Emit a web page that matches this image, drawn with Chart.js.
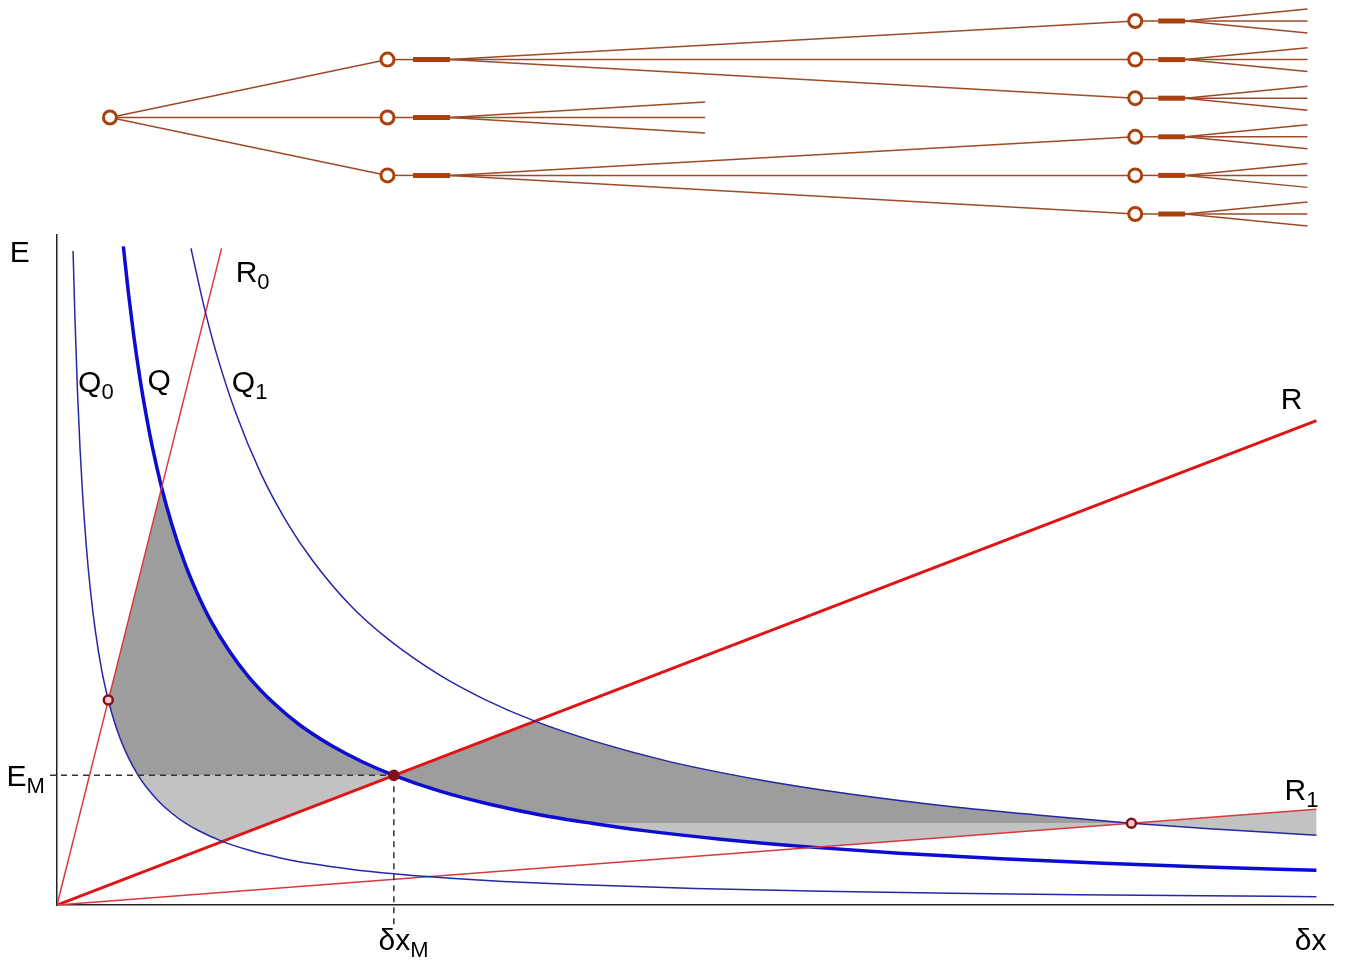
<!DOCTYPE html>
<html>
<head>
<meta charset="utf-8">
<title>E vs δx</title>
<script src="https://cdn.jsdelivr.net/npm/chart.js@4/dist/chart.umd.min.js"></script>
<style>
  html, body { margin: 0; padding: 0; background: #fff; }
  #wrap { position: relative; width: 1348px; height: 963px; }
  #wrap canvas { position: absolute; left: 0; top: 0; }
</style>
</head>
<body>
<div id="wrap">
  <canvas id="tree" width="1348" height="232"></canvas>
  <canvas id="plot" width="1348" height="963"></canvas>
</div>
<script>
// ── Data (arbitrary units: δx 0–100, E 0–100) ──

// Q0, Q, Q1 : the three hyperbolas
const q0X = [1.26, 1.4, 1.6, 1.8, 2, 2.3, 2.6, 3, 3.5, 4.02, 4.5, 5, 5.6, 6.36, 7, 8, 9, 10, 11, 12.95, 15, 17.5, 20, 23, 26.4, 30, 35, 40, 50, 60, 70, 80, 90, 98.7];
const q0E = [97.6, 87.9, 76.9, 68.3, 61.5, 53.5, 47.3, 41.0, 35.1, 30.6, 27.3, 24.6, 22.0, 19.35, 17.6, 15.4, 13.7, 12.3, 11.2, 9.49, 8.2, 7.03, 6.15, 5.35, 4.66, 4.1, 3.51, 3.08, 2.46, 2.05, 1.76, 1.54, 1.37, 1.25];

const qX = [5.2, 5.6, 6, 6.5, 7, 7.5, 8.2, 9, 10, 11, 12, 13.5, 15, 17, 19, 21.5, 24, 26.4, 30, 34, 38, 41.9, 46, 52, 59.4, 66, 74, 82, 90, 98.7];
const qE = [98.3, 91.3, 85.2, 78.6, 73.0, 68.1, 62.3, 56.8, 51.1, 46.5, 42.6, 37.9, 34.1, 30.1, 26.9, 23.8, 21.3, 19.36, 17.0, 15.0, 13.4, 12.2, 11.1, 9.83, 8.6, 7.74, 6.91, 6.23, 5.68, 5.18];

const q1X = [10.5, 11.5, 12.5, 14, 16, 18, 20, 23, 26, 30, 33.5, 37.5, 42, 48, 55, 62, 70, 77, 84.2, 91, 98.7];
const q1E = [98.0, 89.5, 82.3, 73.5, 64.3, 57.2, 51.5, 44.7, 39.6, 34.3, 30.7, 27.4, 24.5, 21.4, 18.7, 16.6, 14.7, 13.4, 12.2, 11.3, 10.4];

// R0, R, R1 : straight lines through the origin (end points)
const r0End = { x: 12.9, y: 98.0 };
const rEnd = { x: 98.7, y: 72.3 };
const r1End = { x: 98.7, y: 14.3 };

// marked crossings: R0∩Q0, R∩Q (δxM, EM), R1∩Q1
const markX = [4.02, 26.4, 84.2];
const markE = [30.6, 19.35, 12.2];

// other crossings that bound the shaded areas
const cornerA = { x: 6.36, y: 19.35 };  // EM level on Q0
const cornerB = { x: 8.2, y: 62.3 };    // R0 ∩ Q
const cornerC = { x: 12.95, y: 9.49 };  // R ∩ Q0
const cornerD = { x: 37.5, y: 27.4 };   // R ∩ Q1
const cornerF = { x: 41.9, y: 12.2 };   // E1 level on Q
const cornerG = { x: 59.4, y: 8.6 };    // R1 ∩ Q

// axis labels and curve names
const labelText = ['E', 'R', 'Q', 'Q', 'Q', 'R', 'E', 'R', 'δx', 'δx'];
const labelSub  = ['', '0', '0', '', '1', '', 'M', '1', 'M', ''];
const labelX = [-3.7, 14.0, 1.65, 7.1, 13.7, 95.9, -3.95, 96.2, 25.2, 97.0];
const labelY = [96.0, 93.0, 76.6, 76.9, 76.6, 74.0, 17.8, 15.7, -6.7, -6.7];

// ── Tree (top panel) ──
const levelX = [4.15, 25.9, 84.5];
const rootY = 2.5;
const childY = [1, 2.5, 4];
const grandY = [0, 1, 2, 3, 4, 5];
const childStub = [27.9, 30.8];
const grandStub = [86.3, 88.4];
const midFanEnd = 50.8;
const grandFanEnd = 98.0;
const midFanSpread = [-0.4, 0, 0.4];
const grandFanSpread = [-0.31, 0, 0.31];

const BROWN = '#9c4a28';
const NODE = '#a8410e';

const pts = (xs, ys) => xs.map((x, i) => ({ x, y: ys[i] }));
const between = (list, a, b) => list.filter(p => p.x > a && p.x < b);

const Q0 = pts(q0X, q0E);
const Q = pts(qX, qE);
const Q1 = pts(q1X, q1E);
const marks = pts(markX, markE);
const [P0, PM, P1] = marks;

function seg(a, b, width, color) {
  return {
    data: [a, b], showLine: true, borderColor: color || BROWN, borderWidth: width || 1.5,
    pointRadius: 0, order: 2, clip: false,
  };
}

const treeSets = [{
  data: [
    { x: levelX[0], y: rootY },
    ...childY.map(y => ({ x: levelX[1], y })),
    ...grandY.map(y => ({ x: levelX[2], y })),
  ],
  showLine: false, pointRadius: 6.5, pointBorderWidth: 3,
  pointBorderColor: NODE, pointBackgroundColor: '#fff', order: 0, clip: false,
}];

childY.forEach(y => {
  treeSets.push(seg({ x: levelX[0], y: rootY }, { x: levelX[1], y }));
  treeSets.push(seg({ x: levelX[1], y }, { x: childStub[0], y }));
  treeSets.push(seg({ x: childStub[0], y }, { x: childStub[1], y }, 5, NODE));
});
// outer children reach three grandchildren each, the middle one fans out short
[[0, [0, 1, 2]], [2, [3, 4, 5]]].forEach(([c, gs]) => {
  gs.forEach(g => treeSets.push(seg({ x: childStub[1], y: childY[c] }, { x: levelX[2], y: grandY[g] })));
});
midFanSpread.forEach(d => treeSets.push(seg({ x: childStub[1], y: childY[1] }, { x: midFanEnd, y: childY[1] + d })));
grandY.forEach(y => {
  treeSets.push(seg({ x: levelX[2], y }, { x: grandStub[0], y }));
  treeSets.push(seg({ x: grandStub[0], y }, { x: grandStub[1], y }, 5, NODE));
  grandFanSpread.forEach(d => treeSets.push(seg({ x: grandStub[1], y }, { x: grandFanEnd, y: y + d })));
});

new Chart(document.getElementById('tree'), {
  type: 'scatter',
  data: { datasets: treeSets },
  options: {
    responsive: false, animation: false, devicePixelRatio: 1,
    layout: { autoPadding: false, padding: { left: 57, right: 15, top: 0, bottom: 0 } },
    plugins: { legend: { display: false }, tooltip: { enabled: false } },
    scales: {
      x: { type: 'linear', min: 0, max: 100, display: false },
      y: { type: 'linear', min: -0.544, max: 5.466, reverse: true, display: false },
    },
  },
});

// ── Shaded areas, built from the curves above ──
const darkLeft = [cornerA, ...between(Q0, P0.x, cornerA.x).reverse(), P0, cornerB, ...between(Q, cornerB.x, PM.x), PM];
const lightLeft = [cornerA, PM, cornerC, ...between(Q0, cornerA.x, cornerC.x).reverse()];
const darkRight = [PM, cornerD, ...between(Q1, cornerD.x, P1.x), P1, cornerF, ...between(Q, PM.x, cornerF.x).reverse()];
const q1Tail = Q1[Q1.length - 1];
const lightRight = [cornerF, P1, r1End, q1Tail, ...between(Q1, P1.x, q1Tail.x).reverse(), P1, cornerG, ...between(Q, cornerF.x, cornerG.x).reverse()];

function area(data, color) {
  return { data, showLine: true, fill: 'shape', backgroundColor: color, borderWidth: 0, pointRadius: 0, tension: 0, order: 5 };
}
function curve(data, color, width) {
  return { data, showLine: true, borderColor: color, borderWidth: width, pointRadius: 0, cubicInterpolationMode: 'monotone', order: 3 };
}
function dashed(data) {
  return { data, showLine: true, borderColor: '#333', borderWidth: 1.5, borderDash: [6, 5], pointRadius: 0, order: 2, clip: false };
}

const origin = { x: 0, y: 0 };

const labelPlugin = {
  id: 'labels',
  afterDraw(chart) {
    const { ctx, scales: { x, y } } = chart;
    ctx.save();
    ctx.fillStyle = '#000';
    ctx.textBaseline = 'alphabetic';
    labelText.forEach((t, i) => {
      const px = x.getPixelForValue(labelX[i]);
      const py = y.getPixelForValue(labelY[i]);
      ctx.font = '30px "Liberation Sans", Arial, sans-serif';
      ctx.fillText(t, px, py);
      if (labelSub[i]) {
        const w = ctx.measureText(t).width;
        ctx.font = '22px "Liberation Sans", Arial, sans-serif';
        ctx.fillText(labelSub[i], px + w, py + 7);
      }
    });
    ctx.restore();
  },
};

new Chart(document.getElementById('plot'), {
  type: 'scatter',
  data: {
    datasets: [
      {
        data: marks, showLine: false, pointRadius: 4.5, pointBorderWidth: 2.5, order: 1,
        pointBorderColor: '#80101a', pointBackgroundColor: ['#f3c8c8', '#801018', '#f3c8c8'],
      },
      dashed([{ x: -0.55, y: PM.y }, PM]),
      dashed([PM, { x: PM.x, y: -3 }]),
      curve(Q0, '#2626a6', 1.5),
      curve(Q1, '#2626a6', 1.5),
      curve([origin, r0End], '#d83a3a', 1.5),
      curve([origin, r1End], '#d83a3a', 1.5),
      curve([origin, rEnd], '#e01414', 3),
      curve(Q, '#0c0cd2', 3.5),
      area(darkLeft, '#9d9d9d'),
      area(lightLeft, '#c2c2c2'),
      area(darkRight, '#9d9d9d'),
      area(lightRight, '#c2c2c2'),
    ],
  },
  options: {
    responsive: false, animation: false, devicePixelRatio: 1,
    layout: { autoPadding: false, padding: { left: 57, right: 15, top: 235, bottom: 58 } },
    plugins: { legend: { display: false }, tooltip: { enabled: false } },
    scales: {
      x: {
        type: 'linear', min: 0, max: 100,
        ticks: { display: false }, grid: { display: false, drawTicks: false },
        border: { display: true, color: '#222', width: 1.5 },
      },
      y: {
        type: 'linear', min: 0, max: 100,
        ticks: { display: false }, grid: { display: false, drawTicks: false },
        border: { display: true, color: '#222', width: 1.5 },
      },
    },
  },
  plugins: [labelPlugin],
});
</script>
</body>
</html>
